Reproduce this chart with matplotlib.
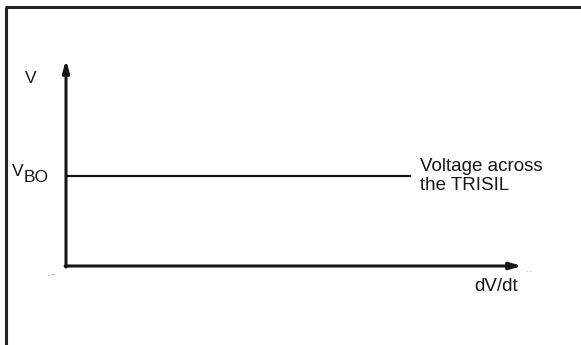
import matplotlib
matplotlib.use('Agg')
import matplotlib.pyplot as plt
from matplotlib.lines import Line2D

plt.rcParams['font.family'] = ['Liberation Sans', 'DejaVu Sans']

# Schematic values (normalised axes 0..1)
v_bo = 0.437          # breakover voltage level
line_end = 0.757      # extent of the V_BO trace along dV/dt
x_label = 'dV/dt'
y_label = 'V'
trace_label = 'Voltage across\nthe TRISIL'

ink = '#161616'

fig = plt.figure(figsize=(5.81, 3.45), dpi=100)
fig.patch.set_facecolor('white')

# frame (top and left edges only, as in the scan)
fig.add_artist(Line2D([6/581, 6/581], [0, 1 - 7/345], transform=fig.transFigure,
                      color='#222222', lw=2.2, solid_capstyle='butt'))
fig.add_artist(Line2D([5/581, 1], [1 - 7/345, 1 - 7/345], transform=fig.transFigure,
                      color='#222222', lw=2.2, solid_capstyle='butt'))

ax = fig.add_axes([66/581, 79/345, 456/581, 206/345])
ax.set_xlim(0, 1)
ax.set_ylim(0, 1)
ax.axis('off')

# axes with arrows
ax.annotate('', xy=(0, 1), xytext=(0, -0.005),
            arrowprops=dict(arrowstyle='-|>,head_length=0.7,head_width=0.2',
                            lw=2.2, color=ink, shrinkA=0, shrinkB=0))
ax.annotate('', xy=(1, 0), xytext=(-0.002, 0),
            arrowprops=dict(arrowstyle='-|>,head_length=0.7,head_width=0.2',
                            lw=2.2, color=ink, shrinkA=0, shrinkB=0))

# V_BO trace
ax.plot([0, line_end], [v_bo, v_bo], color=ink, lw=1.6, solid_capstyle='butt')

# labels
ax.text(-41/456, 0.91, y_label, fontsize=12.5, ha='left', va='center', color=ink)
ax.text(-54/456, v_bo + 0.02, 'V', fontsize=12.5, ha='left', va='center', color=ink)
ax.text(-42/456, v_bo - 0.005, 'BO', fontsize=12.5, ha='left', va='center', color=ink)
ax.text(line_end + 9/456, v_bo + 0.0, trace_label, fontsize=13.5, ha='left', va='center',
        linespacing=1.1, color=ink)
ax.text(1 - 4/456, -0.098, x_label, fontsize=13.5, ha='right', va='center', color=ink)

# small scan marks
ax.text(-18/456, -0.04, '. -', fontsize=5, ha='left', va='center', color='#333333')
ax.text(1.01, -0.02, '. .', fontsize=4, ha='left', va='center', color='#333333')

fig.savefig('out.png', dpi=100, facecolor='white')
